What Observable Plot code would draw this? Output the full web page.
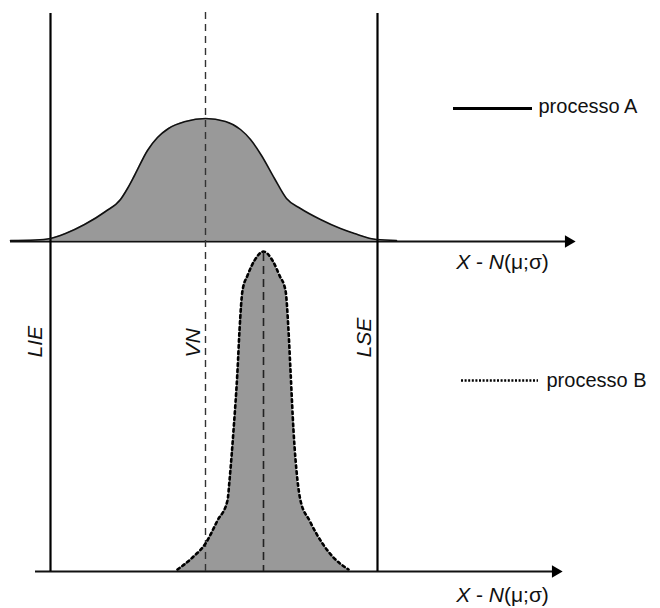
<!DOCTYPE html>
<html>
<head>
<meta charset="utf-8">
<script src="https://cdn.jsdelivr.net/npm/d3@7"></script>
<script src="https://cdn.jsdelivr.net/npm/@observablehq/plot@0.6"></script>
<style>
  html, body { margin: 0; padding: 0; background: #fff; }
  #chart svg { display: block; }
</style>
</head>
<body>
<div id="chart"></div>
<script>
// ---- Data (screen-like units) ----
// Process A curve (wide bell), baseline = upper axis
const curveAX = [10, 35, 50, 65, 84, 105, 120, 127, 134, 147, 157, 168, 185, 205, 225, 240, 250, 261, 274, 286, 300, 320, 340, 354, 376, 396];
const curveAY = [240, 239.5, 238, 233, 224, 211, 199, 188, 175, 150, 137, 128, 121, 118, 121, 129, 139, 155, 178, 198, 208, 219, 228, 233, 239, 240];
// Process B curve (narrow bell), baseline = lower axis
const curveBX = [177, 192, 205, 217, 227, 229, 233, 237, 239, 242, 247, 254, 263, 272, 279, 285, 288, 290, 293, 297, 300, 309, 322, 333, 348];
const curveBY = [569, 557, 543, 520, 500, 480, 430, 370, 330, 290, 275, 260, 251, 260, 275, 290, 330, 370, 430, 480, 500, 520, 543, 557, 569];

const limitLabels = ["LIE", "LSE"];
const limitValues = [50, 377];
const nominalLabel = "VN";
const nominalValue = 205;
const meanB = 263;
const peakB = 251;

const axisLabel = "X - N(μ;σ)";
const axisYs = [241, 571];
const axisStarts = [10, 35];
const axisEnds = [575, 562];

const legendLabels = ["processo A", "processo B"];

// ---- Build tables ----
const dataA = curveAX.map((x, i) => ({x, y: curveAY[i]}));
const dataB = curveBX.map((x, i) => ({x, y: curveBY[i]}));
const axes = axisYs.map((y, i) => ({y, x1: axisStarts[i], x2: axisEnds[i], dy: i === 0 ? 21 : 24}));
const limits = limitLabels.map((label, i) => ({label, x: limitValues[i]}));
const verticalLabels = [
  {label: limitLabels[0], x: limitValues[0] - 15},
  {label: nominalLabel, x: nominalValue - 12},
  {label: limitLabels[1], x: limitValues[1] - 13}
];
const legendA = [{label: legendLabels[0], x1: 453, x2: 532, y: 108}];
const legendB = [{label: legendLabels[1], x1: 461, x2: 538, y: 380}];

const font = "'Liberation Sans', Arial, Helvetica, sans-serif";

const plot = Plot.plot({
  width: 660,
  height: 608,
  margin: 0,
  x: {domain: [0, 660], axis: null},
  y: {domain: [0, 608], range: [0, 608], axis: null},
  style: {fontFamily: font, background: "white", overflow: "visible"},
  marks: [
    // fills
    Plot.areaY(dataA, {x: "x", y1: axisYs[0] - 1, y2: "y", fill: "#999999", curve: "monotone-x"}),
    Plot.areaY(dataB, {x: "x", y1: axisYs[1], y2: "y", fill: "#999999", curve: "monotone-x"}),
    // axes lines + arrow heads
    Plot.ruleY(axes, {y: "y", x1: "x1", x2: d => d.x2 - 6, stroke: "#111", strokeWidth: 2}),
    Plot.dot(axes, {x: d => d.x2 - 7, y: "y", symbol: "triangle", r: 4.6, fill: "#000", stroke: "none", rotate: 90}),
    // spec limits
    Plot.ruleX(limits, {x: "x", y1: 13, y2: axisYs[1], stroke: "#000", strokeWidth: 2.2}),
    // nominal value (dashed)
    Plot.ruleX([nominalValue], {x: d => d, y1: 12, y2: axisYs[1], stroke: "#333", strokeWidth: 1.4, strokeDasharray: "7,5"}),
    // mean of B (dashed)
    Plot.ruleX([meanB], {x: d => d, y1: peakB + 2, y2: axisYs[1], stroke: "#222", strokeWidth: 1.6, strokeDasharray: "8,5"}),
    // curves
    Plot.line(dataA, {x: "x", y: "y", stroke: "#111", strokeWidth: 1.6, curve: "monotone-x"}),
    Plot.line(dataB, {x: "x", y: "y", stroke: "#000", strokeWidth: 2.6, strokeDasharray: "2.6,3.4", curve: "monotone-x"}),
    // vertical labels
    Plot.text(verticalLabels, {x: "x", y: 357, text: "label", rotate: -90, textAnchor: "start", lineAnchor: "middle", fontSize: 21, fontStyle: "italic", fill: "#111"}),
    // axis labels
    Plot.text(axes, {x: 502, y: d => d.y + d.dy, text: () => axisLabel, textAnchor: "middle", lineAnchor: "middle", fontSize: 21, fill: "#111"}),
    // legend
    Plot.ruleY(legendA, {y: "y", x1: "x1", x2: "x2", stroke: "#000", strokeWidth: 3}),
    Plot.ruleY(legendB, {y: "y", x1: "x1", x2: "x2", stroke: "#000", strokeWidth: 2.5, strokeDasharray: "2,1.6"}),
    Plot.text(legendA, {x: d => d.x2 + 6, y: d => d.y - 2, text: "label", textAnchor: "start", lineAnchor: "middle", fontSize: 20, fill: "#111"}),
    Plot.text(legendB, {x: d => d.x2 + 8, y: "y", text: "label", textAnchor: "start", lineAnchor: "middle", fontSize: 20, fill: "#111"})
  ]
});

// Italicize X and N in axis labels
d3.select(plot).selectAll("text").each(function() {
  const t = d3.select(this);
  if (t.text() === axisLabel) {
    t.text(null);
    t.append("tspan").attr("font-style", "italic").text("X");
    t.append("tspan").text(" - ");
    t.append("tspan").attr("font-style", "italic").text("N");
    t.append("tspan").text("(μ;σ)");
  }
});

document.getElementById("chart").appendChild(plot);
</script>
</body>
</html>
